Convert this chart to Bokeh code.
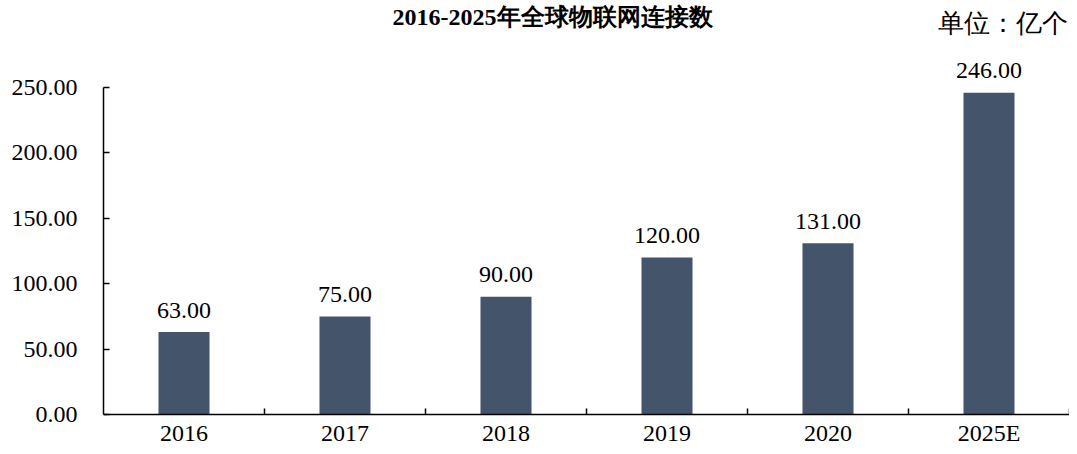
from bokeh.plotting import figure
from bokeh.models import ColumnDataSource, FixedTicker, NumeralTickFormatter, Label
from bokeh.core.properties import value
from bokeh.embed import file_html
from bokeh.resources import INLINE

categories = ["2016", "2017", "2018", "2019", "2020", "2025E"]
connections = [63.00, 75.00, 90.00, 120.00, 131.00, 246.00]
y_ticks = [0, 50, 100, 150, 200, 250]
title_text = "2016-2025年全球物联网连接数"
unit_text = "单位：亿个"

x_pos = [i + 0.5 for i in range(len(categories))]
labels = ["%.2f" % v for v in connections]
src = ColumnDataSource(dict(x=x_pos, y=connections, label=labels))

SERIF = "Liberation Serif"
BAR = "#44546A"

p = figure(width=1069, height=446, output_backend="svg", toolbar_location=None,
           x_range=(0, len(categories)), y_range=(-24.46, 316.5),
           min_border_left=103, min_border_right=0, min_border_top=0, min_border_bottom=0)
p.outline_line_color = None
p.xgrid.visible = False
p.ygrid.visible = False
p.background_fill_color = "white"
p.border_fill_color = "white"

p.vbar(x="x", top="y", width=0.317, source=src, fill_color=BAR, line_color=None)
p.text(x="x", y="y", text="label", source=src, text_align="center", text_baseline="alphabetic",
       y_offset=-22, text_font=value(SERIF), text_font_size="24px", text_color="#000000")

# y axis
ya = p.yaxis[0]
ya.ticker = FixedTicker(ticks=y_ticks)
ya.formatter = NumeralTickFormatter(format="0.00")
ya.bounds = (0, 250)
ya.major_tick_in = 6
ya.major_tick_out = 0
ya.minor_tick_in = 0
ya.minor_tick_out = 0
ya.axis_line_color = "#000000"
ya.axis_line_width = 1.5
ya.major_tick_line_color = "#000000"
ya.major_tick_line_width = 1.5
ya.major_label_standoff = 26
ya.major_label_text_font = SERIF
ya.major_label_text_font_size = "24px"
ya.major_label_text_color = "#000000"

# x axis, pinned at y = 0
xa = p.xaxis[0]
xa.fixed_location = 0
xa.ticker = FixedTicker(ticks=x_pos, minor_ticks=list(range(1, len(categories) + 1)))
xa.major_label_overrides = {x: c for x, c in zip(x_pos, categories)}
xa.major_tick_in = 0
xa.major_tick_out = 0
xa.minor_tick_in = 6
xa.minor_tick_out = 0
xa.minor_tick_line_color = "#000000"
xa.minor_tick_line_width = 1.5
xa.axis_line_color = "#000000"
xa.axis_line_width = 1.5
xa.major_label_standoff = 5
xa.major_label_text_font = SERIF
xa.major_label_text_font_size = "24px"
xa.major_label_text_color = "#000000"

p.add_layout(Label(x=2.789, y=314.2, text=title_text, text_align="center", text_baseline="top",
                   text_font=SERIF, text_font_size="24px", text_font_style="bold", text_color="#000000"))
p.add_layout(Label(x=5.988, y=298.9, text=unit_text, text_align="right", text_baseline="middle",
                   text_font=SERIF, text_font_size="26px", text_color="#000000"))

open("out.html", "w").write(file_html(p, INLINE))
